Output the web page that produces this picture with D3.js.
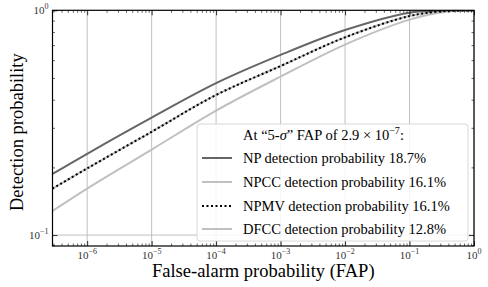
<!DOCTYPE html>
<html>
<head>
<meta charset="utf-8">
<script src="https://cdn.jsdelivr.net/npm/d3@7"></script>
<style>
  body { margin: 0; background: #fff; }
  text { font-family: "Liberation Serif", "DejaVu Serif", serif; }
</style>
</head>
<body>
<div id="chart"></div>
<script>
// false-alarm probability grid
var fap = [2.9e-7, 1e-6, 1e-5, 1e-4, 1e-3, 1e-2, 1e-1, 3e-1, 1];

// detection probabilities
var npValues   = [0.187, 0.230, 0.333, 0.474, 0.633, 0.817, 0.976, 0.996, 1];
var npccValues = [0.161, 0.198, 0.288, 0.420, 0.565, 0.758, 0.943, 0.988, 1];
var npmvValues = [0.161, 0.198, 0.288, 0.420, 0.565, 0.758, 0.943, 0.988, 1];
var dfccValues = [0.128, 0.161, 0.240, 0.358, 0.507, 0.704, 0.909, 0.978, 1];

var legendLabels = ["NP detection probability 18.7%", "NPCC detection probability 16.1%",
                    "NPMV detection probability 16.1%", "DFCC detection probability 12.8%"];
var xTickExp = [-6, -5, -4, -3, -2, -1, 0];
var yTickExp = [-1, 0];

var W = 488, H = 287;
var pLeft = 52.5, pRight = 474, pTop = 10.3, pBottom = 246;

var svg = d3.select("#chart").append("svg")
    .attr("width", W)
    .attr("height", H);

var x = d3.scaleLog().domain([2.9e-7, 1]).range([pLeft, pRight]);
var y = d3.scaleLog().domain([0.0894, 1]).range([pBottom, pTop]);

// grid
svg.append("g").selectAll("line")
    .data(xTickExp)
    .enter().append("line")
    .attr("x1", function(d){ return x(Math.pow(10, d)); })
    .attr("x2", function(d){ return x(Math.pow(10, d)); })
    .attr("y1", pTop).attr("y2", pBottom)
    .attr("stroke", "#b0b0b0").attr("stroke-width", 0.8);
svg.append("line")
    .attr("x1", pLeft).attr("x2", pRight)
    .attr("y1", y(0.1)).attr("y2", y(0.1))
    .attr("stroke", "#b0b0b0").attr("stroke-width", 0.8);

// curves
var series = [
    {vals: npValues,   color: "#666666", width: 2,   dash: null},
    {vals: npccValues, color: "#c0c0c0", width: 2,   dash: null},
    {vals: npmvValues, color: "#000000", width: 2,   dash: "2,2.5"},
    {vals: dfccValues, color: "#c0c0c0", width: 2,   dash: null}
];
var line = d3.line()
    .x(function(d){ return x(d[0]); })
    .y(function(d){ return y(d[1]); })
    .curve(d3.curveCatmullRom.alpha(0.5));

svg.append("defs").append("clipPath").attr("id", "clip")
    .append("rect").attr("x", pLeft).attr("y", pTop)
    .attr("width", pRight - pLeft).attr("height", pBottom - pTop);

var drawOrder = [3, 1, 0, 2];
drawOrder.forEach(function(i){
    var s = series[i];
    svg.append("path")
        .attr("clip-path", "url(#clip)")
        .attr("d", line(d3.zip(fap, s.vals)))
        .attr("fill", "none")
        .attr("stroke", s.color)
        .attr("stroke-width", s.width)
        .attr("stroke-dasharray", s.dash);
});

// axes with inward ticks on all sides
var xMinor = [];
for (var e = -7; e < 0; e++) for (var m = 2; m <= 9; m++) {
    var v = m * Math.pow(10, e);
    if (v >= 2.9e-7 && v <= 1) xMinor.push(v);
}
var yMinor = [0.09, 0.2, 0.3, 0.4, 0.5, 0.6, 0.7, 0.8, 0.9];
var xMajor = xTickExp.map(function(d){ return Math.pow(10, d); });
var yMajor = yTickExp.map(function(d){ return Math.pow(10, d); });

var axes = [
    {ax: d3.axisBottom(x), tr: "translate(0," + pBottom + ")", maj: xMajor, min: xMinor},
    {ax: d3.axisTop(x),    tr: "translate(0," + pTop + ")",    maj: xMajor, min: xMinor},
    {ax: d3.axisLeft(y),   tr: "translate(" + pLeft + ",0)",   maj: yMajor, min: yMinor},
    {ax: d3.axisRight(y),  tr: "translate(" + pRight + ",0)",  maj: yMajor, min: yMinor}
];
axes.forEach(function(a){
    svg.append("g").attr("transform", a.tr)
        .call(a.ax.tickValues(a.min).tickSize(-2.5).tickFormat(""))
        .call(function(g){ g.select(".domain").remove(); g.selectAll("line").attr("stroke", "#000").attr("stroke-width", 0.6); });
    svg.append("g").attr("transform", a.tr)
        .call(a.ax.tickValues(a.maj).tickSize(-5).tickFormat(""))
        .call(function(g){ g.select(".domain").remove(); g.selectAll("line").attr("stroke", "#000").attr("stroke-width", 0.8); });
});
svg.append("rect")
    .attr("x", pLeft).attr("y", pTop)
    .attr("width", pRight - pLeft).attr("height", pBottom - pTop)
    .attr("fill", "none").attr("stroke", "#000").attr("stroke-width", 1.2);

// tick labels
var xl = svg.append("g").selectAll("text")
    .data(xTickExp).enter().append("text")
    .attr("x", function(d){ return x(Math.pow(10, d)); })
    .attr("y", pBottom + 13)
    .attr("text-anchor", "middle")
    .attr("font-size", "11px")
    .attr("fill", "#333");
xl.append("tspan").text("10");
xl.append("tspan").attr("dy", -5).attr("font-size", "8px")
    .text(function(d){ return d === 0 ? "0" : "\u2212" + (-d); });

var yl = svg.append("g").selectAll("text")
    .data(yTickExp).enter().append("text")
    .attr("x", pLeft - 4)
    .attr("y", function(d){ return y(Math.pow(10, d)) + 4; })
    .attr("text-anchor", "end")
    .attr("font-size", "11px")
    .attr("fill", "#333");
yl.append("tspan").text("10");
yl.append("tspan").attr("dy", -5).attr("font-size", "8px")
    .text(function(d){ return d === 0 ? "0" : "\u2212" + (-d); });

// axis titles
svg.append("text")
    .attr("x", (pLeft + pRight) / 2).attr("y", 277)
    .attr("text-anchor", "middle").attr("font-size", "18.5px")
    .text("False-alarm probability (FAP)");
svg.append("text")
    .attr("transform", "translate(23," + ((pTop + pBottom) / 2 + 4) + ") rotate(-90)")
    .attr("text-anchor", "middle").attr("font-size", "18.5px")
    .text("Detection probability");

// legend
var lg = svg.append("g");
lg.append("rect")
    .attr("x", 197).attr("y", 124).attr("width", 271).attr("height", 117)
    .attr("rx", 3).attr("fill", "#fff").attr("fill-opacity", 0.85)
    .attr("stroke", "#d8d8d8").attr("stroke-width", 1);

var title = lg.append("text").attr("x", 243).attr("y", 140).attr("font-size", "14.5px");
title.append("tspan").text("At \u201c5-");
title.append("tspan").attr("font-style", "italic").text("\u03c3");
title.append("tspan").text("\u201d FAP of 2.9 \u00d7 10");
title.append("tspan").attr("dy", -6).attr("font-size", "10px").text("\u22127");
title.append("tspan").attr("dy", 6).text(":");

var rowY = [158, 182, 206, 229];
legendLabels.forEach(function(lab, i){
    var s = series[i];
    lg.append("line")
        .attr("x1", 202).attr("x2", 232)
        .attr("y1", rowY[i]).attr("y2", rowY[i])
        .attr("stroke", s.color).attr("stroke-width", s.width)
        .attr("stroke-dasharray", s.dash);
    lg.append("text")
        .attr("x", 243).attr("y", rowY[i] + 5)
        .attr("font-size", "14.5px")
        .text(lab);
});
</script>
</body>
</html>
